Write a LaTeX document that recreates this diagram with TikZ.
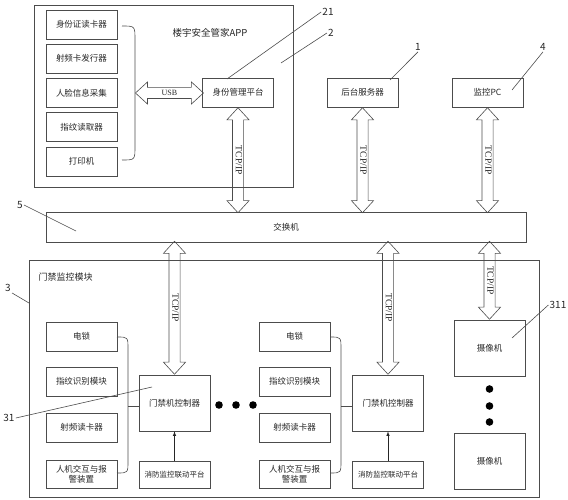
\documentclass[tikz,border=0pt]{standalone}
\usepackage{fontspec}
\setmainfont{Noto Sans CJK SC}
\newfontfamily\latinserif{Liberation Serif}
\usetikzlibrary{shapes.arrows}

\begin{document}
\begin{tikzpicture}[x=1pt,y=-1pt,line width=0.6pt,font=\fontsize{8.5}{10}\selectfont]
\useasboundingbox (0,0) rectangle (568,500);
\tikzstyle{box}=[draw=black!70,shape=rectangle,minimum width=71pt,minimum height=29pt,inner sep=1pt,text=black!85]
\tikzstyle{bus}=[draw=black!70,shape=double arrow,double arrow head extend=5.5pt,double arrow tip angle=85,inner xsep=0pt,inner ysep=2pt,text height=5.5pt,text depth=1pt,font=\latinserif\fontsize{9.5}{9.5}\selectfont,text=black!85]
\tikzstyle{tag}=[inner sep=1pt,font=\fontsize{10}{10}\selectfont,text=black!85]
\draw[black!70] (34,5) rectangle (293,187);
\node[text=black!85,font=\fontsize{9.5}{10}\selectfont] (app) at (210,33) {楼宇安全管家APP};
\node[box] (u0) at (81.5,24.5) {身份证读卡器};
\node[box] (u1) at (81.5,58.5) {射频卡发行器};
\node[box] (u2) at (81.5,93) {人脸信息采集};
\node[box] (u3) at (81.5,127) {指纹读取器};
\node[box] (u4) at (81.5,161.5) {打印机};
\node[box] (v1) at (238,92.5) {身份管理平台};
\node[box] (v2) at (362.5,92.5) {后台服务器};
\node[box] (v3) at (487.5,92.5) {监控PC};
\node[box,minimum width=480pt,minimum height=30pt] (sw) at (286,227) {交换机};
\draw[black!70] (122,26) .. controls (135,26) .. (135,40) -- (135,146) .. controls (135,160) .. (122,160);
\coordinate (bu) at (135,93);
\node[bus,anchor=tip 2,minimum height=68pt,font=\latinserif\fontsize{8}{8}\selectfont] (usb) at (bu) {USB};
\node[bus,rotate=-90,anchor=tip 2,minimum height=105pt] (t1) at (v1.south) {TCP/IP};
\node[bus,rotate=-90,anchor=tip 2,minimum height=105pt] (t2) at (v2.south) {TCP/IP};
\node[bus,rotate=-90,anchor=tip 2,minimum height=105pt] (t3) at (v3.south) {TCP/IP};
\draw[black!70] (29,260) rectangle (539,497);
\node[anchor=west,text=black!85,font=\fontsize{9}{10}\selectfont] (mod) at (35,277) {门禁监控模块};
\node[box] (a0) at (81.5,336.5) {电锁};
\node[box] (a1) at (81.5,381.5) {指纹识别模块};
\node[box] (a2) at (81.5,427.5) {射频读卡器};
\node[box,align=center,minimum height=28pt] (a3) at (81.5,474) {人机交互与报\\警装置};
\node[box,minimum height=56pt] (c1) at (174.5,403) {门禁机控制器};
\node[box,minimum height=27pt,font=\fontsize{7.5}{9}\selectfont] (f1) at (174.5,474.5) {消防监控联动平台};
\node[box] (b0) at (294.5,336.5) {电锁};
\node[box] (b1) at (294.5,381.5) {指纹识别模块};
\node[box] (b2) at (294.5,427.5) {射频读卡器};
\node[box,align=center,minimum height=28pt] (b3) at (294.5,474) {人机交互与报\\警装置};
\node[box,minimum height=56pt] (c2) at (388,403) {门禁机控制器};
\node[box,minimum height=27pt,font=\fontsize{7.5}{9}\selectfont] (f2) at (388,474.5) {消防监控联动平台};
\node[box,minimum height=56pt] (k1) at (489.5,348) {摄像机};
\node[box,minimum height=56pt] (k2) at (489.5,461) {摄像机};
\node[bus,rotate=-90,anchor=tip 1,minimum height=133pt] (t4) at (c1.north) {TCP/IP};
\node[bus,rotate=-90,anchor=tip 1,minimum height=133pt] (t5) at (c2.north) {TCP/IP};
\node[bus,rotate=-90,anchor=tip 1,minimum height=78pt] (t6) at (k1.north) {TCP/IP};
\draw[black!70] (117,337) .. controls (128,337) .. (128,349) -- (128,461) .. controls (128,473) .. (117,473);
\draw[black!70] (330,337) .. controls (341,337) .. (341,349) -- (341,461) .. controls (341,473) .. (330,473);
\coordinate (j1) at (128,406);
\coordinate (j2) at (341,406);
\draw[black!70] (j1) -- (j1 -| c1.west);
\draw[black!70] (j2) -- (j2 -| c2.west);
\draw[-latex,black!85] (f1) -- (c1);
\draw[-latex,black!85] (f2) -- (c2);
\fill (219,405) circle (3.8pt);
\fill (236,405) circle (3.8pt);
\fill (253,405) circle (3.8pt);
\fill (489.5,389) circle (3.8pt);
\fill (489.5,406) circle (3.8pt);
\fill (489.5,422) circle (3.8pt);
\node[tag] (n21) at (328,12) {21};
\node[tag] (n2) at (331,33) {2};
\node[tag] (n1) at (418,47) {1};
\node[tag] (n4) at (543,47) {4};
\node[tag] (n5) at (20,205) {5};
\node[tag] (n3) at (8,288) {3};
\node[tag] (n31) at (9,418) {31};
\node[tag] (n311) at (558,305) {311};
\coordinate (p21) at (227,79);
\coordinate (p2) at (281,63);
\coordinate (p1) at (390,80);
\coordinate (p4) at (512,90);
\coordinate (p5) at (76,231);
\coordinate (p3) at (29,303);
\coordinate (p31) at (152,387);
\coordinate (p311) at (512,338);
\draw[black!70] (n21.west) -- (p21);
\draw[black!70] (n2.west) -- (p2);
\draw[black!70] (n1.south) -- (p1);
\draw[black!70] (n4.south) -- (p4);
\draw[black!70] (n5.east) -- (p5);
\draw[black!70] (n3.south east) -- (p3);
\draw[black!70] (n31.east) -- (p31);
\draw[black!70] (n311.west) -- (p311);
\end{tikzpicture}
\end{document}
